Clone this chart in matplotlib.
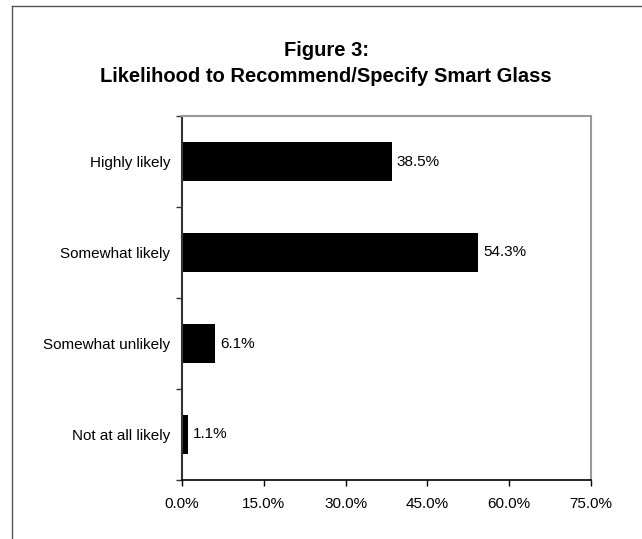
import matplotlib.pyplot as plt
from matplotlib.lines import Line2D
from matplotlib.ticker import FuncFormatter
import numpy as np

plt.rcParams['font.family'] = ['Liberation Sans', 'DejaVu Sans']

categories = ["Highly likely", "Somewhat likely", "Somewhat unlikely", "Not at all likely"]
values = [38.5, 54.3, 6.1, 1.1]
x_ticks = [0, 15, 30, 45, 60, 75]

fig = plt.figure(figsize=(6.42, 5.39), dpi=100)
W, H = 642, 539

# page frame (only left and top edges visible)
fig.add_artist(Line2D([12 / W, 12 / W], [0, 1 - 6 / H], color="#555555", lw=1))
fig.add_artist(Line2D([12 / W, 1], [1 - 6 / H, 1 - 6 / H], color="#555555", lw=1))

# title
fig.text(0.508, 1 - 51 / H, "Figure 3:", ha="center", va="center",
         fontsize=14.5, fontweight="bold")
fig.text(0.508, 1 - 76 / H, "Likelihood to Recommend/Specify Smart Glass",
         ha="center", va="center", fontsize=14.5, fontweight="bold")

ax = fig.add_axes([182 / W, (H - 480) / H, 409 / W, 364 / H])
y = np.arange(len(categories))
ax.barh(y, values, height=0.43, color="black")

for yi, v in zip(y, values):
    ax.annotate(f"{v:.1f}%", (v, yi), xytext=(3.5, 0), textcoords="offset points",
                va="center", ha="left", fontsize=11)

ax.set_xlim(0, 75)
ax.set_ylim(len(categories) - 0.5, -0.5)
ax.set_xticks(x_ticks)
ax.xaxis.set_major_formatter(FuncFormatter(lambda v, p: f"{v:.1f}%"))

# category labels at centres, ticks at the boundaries
ax.set_yticks(np.arange(len(categories) + 1) - 0.5)
ax.set_yticklabels([])
ax.set_yticks(y, minor=True)
ax.set_yticklabels(categories, minor=True)
ax.tick_params(axis="y", which="minor", length=0, pad=8.5, labelsize=11)
ax.tick_params(axis="y", which="major", length=4, width=1, color="#333333")
ax.tick_params(axis="x", length=4, width=1, pad=8, labelsize=11)

for s in ["top", "right"]:
    ax.spines[s].set_color("#999999")
    ax.spines[s].set_linewidth(1.5)
ax.spines["left"].set_color("#333333")
ax.spines["left"].set_linewidth(1.5)
ax.spines["bottom"].set_color("black")
ax.spines["bottom"].set_linewidth(1.2)

fig.savefig("out.png", dpi=100)
